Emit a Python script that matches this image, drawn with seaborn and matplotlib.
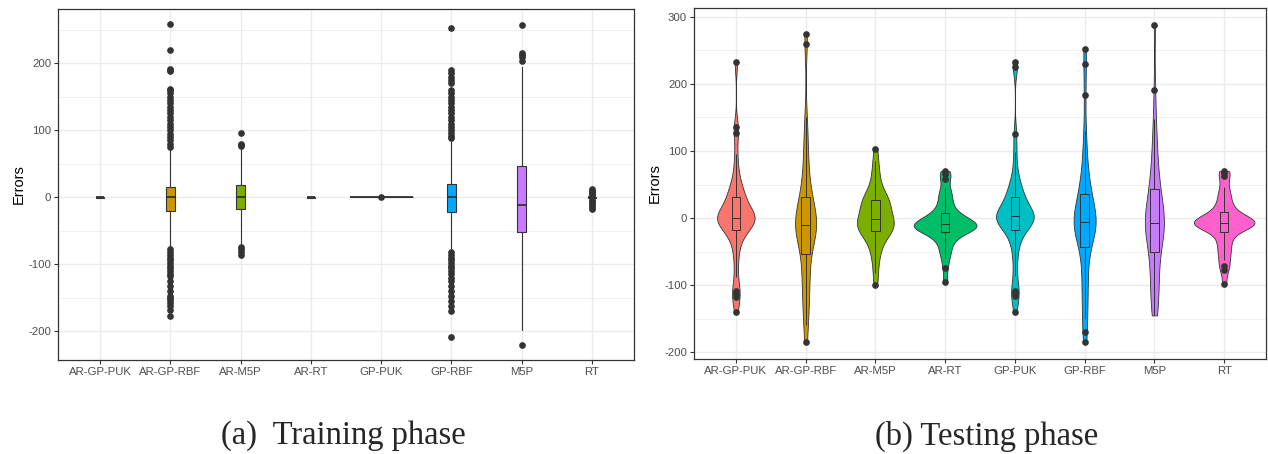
import numpy as np
import pandas as pd
import matplotlib
matplotlib.use("Agg")
import matplotlib.pyplot as plt
from matplotlib.ticker import MultipleLocator
import seaborn as sns

# ---------------- data ----------------
categories = ["AR-GP-PUK", "AR-GP-RBF", "AR-M5P", "AR-RT", "GP-PUK", "GP-RBF", "M5P", "RT"]
palette = ["#F8766D", "#CD9600", "#7CAE00", "#00BE67", "#00BFC4", "#00A9FF", "#C77CFF", "#FF61CC"]

# Training phase: box-plot statistics
train_q1 = [-1, -21, -17, -1, 0, -22, -52, -1]
train_median = [0, 0, 0, 0, 0, 0, -12, 0]
train_q3 = [1, 16, 18, 1, 0, 20, 47, 1]
train_whisker_low = [-1, -76, -70, -1, 0, -80, -198, -3]
train_whisker_high = [1, 73, 72, 1, 0, 85, 195, 3]
train_outliers = [
    [],
    [75, 80, 85, 90, 95, 100, 105, 110, 115, 120, 125, 130, 135, 140, 145, 150, 155,
     160, 162, 188, 190, 192, 220, 258,
     -78, -82, -86, -90, -94, -98, -102, -106, -110, -114, -118, -125, -132, -140,
     -147, -150, -153, -158, -163, -168, -177],
    [76, 78, 80, 96, -74, -78, -82, -86],
    [],
    [0],
    [88, 92, 96, 100, 105, 110, 115, 120, 125, 130, 135, 140, 145, 150, 155, 160, 170,
     175, 180, 185, 190, 252,
     -82, -86, -90, -94, -98, -102, -106, -110, -114, -120, -125, -133, -140, -148,
     -155, -162, -170, -209],
    [203, 210, 213, 216, 257, -220],
    [13, 10, 8, 6, 4, -4, -6, -9, -12, -15, -18],
]

# Testing phase: error samples
test_ar_gp_puk = [-140, -118, -113, -109, -88, -65, -48, -35, -27, -21, -17, -12, -9, -7,
                  -5, -4, -3, -2, -1, 0, 1, 2, 4, 6, 8, 11, 15, 20, 25, 30, 33, 36, 41, 48,
                  57, 72, 95, 127, 136, 232]
test_ar_gp_rbf = [-185, -160, -145, -130, -118, -105, -95, -85, -75, -62, -50, -42, -35,
                  -28, -22, -18, -15, -13, -12, -11, -10, -8, -5, -2, 2, 7, 13, 20, 27, 31,
                  34, 45, 58, 72, 88, 105, 125, 150, 260, 275]
test_ar_m5p = [-100, -82, -66, -54, -46, -40, -32, -27, -24, -21, -18, -16, -14, -13, -12,
               -11, -10, -8, -5, -2, 0, 3, 6, 9, 12, 15, 18, 21, 24, 26, 28, 30, 33, 37,
               43, 52, 62, 72, 85, 103]
test_ar_rt = [-95, -74, -60, -52, -45, -38, -33, -29, -26, -21, -20, -19, -17, -16, -15,
              -14, -13, -12, -11, -10, -9, -8, -7, -6, -4, -2, 0, 2, 4, 6, 10, 15, 20, 26,
              32, 38, 45, 58, 65, 70]
test_gp_puk = [-140, -116, -112, -108, -86, -65, -47, -35, -27, -21, -16, -11, -8, -6, -4,
               -2, -1, 0, 1, 2, 3, 4, 5, 7, 9, 12, 16, 21, 26, 30, 34, 37, 42, 49, 58,
               72, 98, 126, 225, 232]
test_gp_rbf = [-185, -170, -150, -135, -120, -105, -92, -80, -65, -50, -40, -34, -28, -23,
               -19, -15, -12, -10, -8, -7, -5, -3, 0, 4, 8, 13, 19, 25, 31, 35, 40, 48, 58,
               70, 85, 105, 130, 183, 230, 252]
test_m5p = [-145, -138, -128, -118, -108, -98, -88, -78, -68, -58, -48, -40, -33, -27, -22,
            -18, -14, -11, -9, -8, -6, -3, 0, 4, 9, 14, 20, 27, 35, 42, 46, 55, 65, 78, 92,
            108, 125, 148, 191, 287]
test_rt = [-98, -78, -72, -63, -56, -49, -43, -37, -31, -25, -20, -17, -14, -12, -11, -10,
           -9, -9, -8, -8, -6, -6, -5, -4, -3, -2, 0, 2, 5, 8, 11, 16, 21, 27, 33, 40, 47,
           62, 67, 70]

test_samples = [test_ar_gp_puk, test_ar_gp_rbf, test_ar_m5p, test_ar_rt,
                test_gp_puk, test_gp_rbf, test_m5p, test_rt]


def nrd0(kde):
    """Bandwidth rule used by R/ggplot2 (bw.nrd0), as a factor of the sample sd."""
    x = np.asarray(kde.dataset).ravel()
    sd = x.std(ddof=1)
    q75, q25 = np.percentile(x, [75, 25])
    return 0.9 * min(sd, (q75 - q25) / 1.34) * len(x) ** -0.2 / sd


# ---------------- style ----------------
sns.set_style("white")
plt.rcParams["font.family"] = ["Liberation Sans", "DejaVu Sans"]
plt.rcParams["axes.unicode_minus"] = False

W, H = 1268, 454
fig = plt.figure(figsize=(W / 100, H / 100), dpi=100)
ax1 = fig.add_axes([58 / W, 1 - 360 / H, (634 - 58) / W, (360 - 9) / H])
ax2 = fig.add_axes([694 / W, 1 - 359 / H, (1266 - 694) / W, (359 - 8) / H])

edge = "#333333"
grid_c = "#EBEBEB"
dot = dict(marker="o", markerfacecolor=edge, markeredgecolor=edge, markersize=3.8)

# ---------------- (a) training: box plots ----------------
stats = []
for i, cat in enumerate(categories):
    stats.append(dict(label=cat, med=train_median[i], q1=train_q1[i], q3=train_q3[i],
                      whislo=train_whisker_low[i], whishi=train_whisker_high[i],
                      fliers=train_outliers[i]))
box_widths = [0.9 if c == "GP-PUK" else 0.12 for c in categories]
bp = ax1.bxp(stats, positions=list(range(len(categories))), widths=box_widths,
             patch_artist=True, showcaps=False,
             boxprops=dict(edgecolor=edge, linewidth=0.8),
             medianprops=dict(color=edge, linewidth=1.3),
             whiskerprops=dict(color=edge, linewidth=0.8),
             flierprops=dict(linestyle="none", **dot))
for patch, col in zip(bp["boxes"], palette):
    patch.set_facecolor(col)
ax1.set_ylim(-243, 281)

# ---------------- (b) testing: violins ----------------
df = pd.DataFrame({
    "model": np.repeat(categories, [len(s) for s in test_samples]),
    "error": np.concatenate([np.asarray(s, dtype=float) for s in test_samples]),
})
sns.violinplot(data=df, x="model", y="error", hue="model", order=categories,
               hue_order=categories, palette=palette, cut=0, inner=None,
               density_norm="area", common_norm=True, width=0.9, linewidth=0.6,
               linecolor=edge, saturation=1, legend=False, bw_method=nrd0,
               bw_adjust=1.0, ax=ax2)
sns.boxplot(data=df, x="model", y="error", order=categories, width=0.12, fill=False,
            color=edge, linewidth=0.7, showcaps=False, flierprops=dot, ax=ax2)
ax2.set_ylim(-210, 313)

# ---------------- common axes styling ----------------
for ax in (ax1, ax2):
    ax.set_xlim(-0.6, len(categories) - 0.4)
    ax.set_xticks(range(len(categories)))
    ax.set_xticklabels(categories)
    ax.yaxis.set_major_locator(MultipleLocator(100))
    ax.yaxis.set_minor_locator(MultipleLocator(50))
    ax.set_axisbelow(True)
    ax.grid(which="major", color=grid_c, linewidth=1.0)
    ax.grid(which="minor", axis="y", color=grid_c, linewidth=0.5)
    ax.tick_params(axis="both", which="major", direction="out", length=3, width=0.8,
                   color=edge, labelsize=8.2, labelcolor="#4D4D4D", pad=2,
                   left=True, bottom=True)
    ax.tick_params(axis="y", which="minor", length=0)
    for sp in ax.spines.values():
        sp.set_visible(True)
        sp.set_color(edge)
        sp.set_linewidth(0.9)
    ax.set_xlabel("")
    ax.set_ylabel("Errors", fontsize=10.5, color="black", labelpad=2)

fig.text(343 / W, 1 - 436 / H, "(a)  Training phase", family="Liberation Serif",
         fontsize=23.5, ha="center", va="center")
fig.text(987 / W, 1 - 436 / H, "(b) Testing phase", family="Liberation Serif",
         fontsize=23.5, ha="center", va="center")

fig.savefig("out.png", dpi=100)
